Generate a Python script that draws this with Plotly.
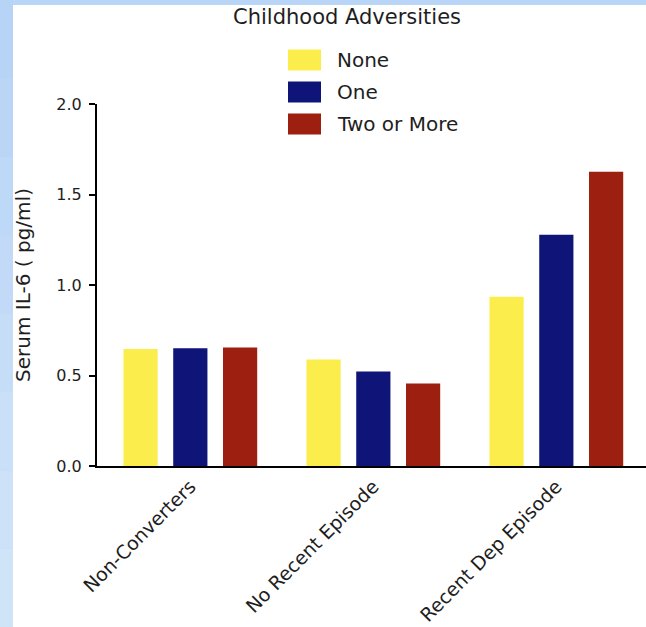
import plotly.graph_objects as go

categories = ["Non-Converters", "No Recent Episode", "Recent Dep Episode"]
series_names = ["None", "One", "Two or More"]
none_vals = [0.647, 0.588, 0.935]
one_vals = [0.650, 0.522, 1.277]
two_vals = [0.655, 0.456, 1.626]
y_ticks = [0.0, 0.5, 1.0, 1.5, 2.0]
legend_title = "Childhood Adversities"
y_title = "Serum IL-6 ( pg/ml)"

colors = ["#FBEE4C", "#0E1478", "#9D1F0F"]
FONT = "DejaVu Sans"
TXT = "#1e1e1e"

W, H = 646, 627
L, R, T, B = 97, 0, 104, 161
PW, PH = W - L - R, H - T - B


def px_x(x):
    return (x - L) / PW


def px_y(y):
    return (H - B - y) / PH


fig = go.Figure()
for name, vals, col in zip(series_names, [none_vals, one_vals, two_vals], colors):
    fig.add_trace(go.Bar(x=categories, y=vals, name=name,
                         marker=dict(color=col, line=dict(width=0)),
                         showlegend=False))

shapes = []
# background: blue frame with lighter gradient on the left strip
grad = ["#b7d3f6", "#bad5f6", "#bed8f7", "#c2daf7", "#c6ddf7", "#cae0f8", "#cde2f8", "#d0e4f8"]
n = len(grad)
for i, c in enumerate(grad):
    shapes.append(dict(type="rect", xref="paper", yref="paper", layer="below",
                       x0=px_x(0), x1=px_x(13),
                       y0=px_y(H * i / n), y1=px_y(H * (i + 1) / n),
                       fillcolor=c, line=dict(width=0)))
shapes.append(dict(type="rect", xref="paper", yref="paper", layer="below",
                   x0=px_x(13), x1=px_x(W), y0=px_y(5), y1=px_y(H),
                   fillcolor="white", line=dict(width=0)))

annotations = [dict(text=legend_title, xref="paper", yref="paper",
                    x=px_x(347), y=px_y(17), xanchor="center", yanchor="middle",
                    showarrow=False, font=dict(family=FONT, size=21, color=TXT))]
row_y = [60, 92, 124]
for name, col, ry in zip(series_names, colors, row_y):
    shapes.append(dict(type="rect", xref="paper", yref="paper",
                       x0=px_x(288), x1=px_x(321), y0=px_y(ry + 10.5), y1=px_y(ry - 10.5),
                       fillcolor=col, line=dict(width=0)))
    annotations.append(dict(text=name, xref="paper", yref="paper",
                            x=px_x(335), y=px_y(ry), xanchor="left", yanchor="middle",
                            showarrow=False, font=dict(family=FONT, size=20, color=TXT)))

fig.update_layout(
    width=W, height=H, autosize=False,
    margin=dict(l=L, r=R, t=T, b=B, pad=0),
    paper_bgcolor="#b9d5f7", plot_bgcolor="white",
    font=dict(family=FONT, color=TXT),
    barmode="group", bargap=0.184, bargroupgap=0.313,
    shapes=shapes, annotations=annotations,
    showlegend=False,
    xaxis=dict(range=[-0.51, 2.49], showline=True, linecolor="black", linewidth=2,
               ticks="", showgrid=False, zeroline=False, tickangle=-45,
               tickfont=dict(family=FONT, size=19, color=TXT), automargin=False),
    yaxis=dict(range=[0, 2], tickvals=y_ticks, ticktext=[f"{v:.1f}" for v in y_ticks],
               showline=True, linecolor="black", linewidth=2,
               ticks="outside", ticklen=6, tickwidth=2, tickcolor="black",
               ticklabelstandoff=4,
               showgrid=False, zeroline=False, automargin=False,
               tickfont=dict(family=FONT, size=16, color=TXT),
               title=dict(text=y_title, standoff=20,
                          font=dict(family=FONT, size=20, color=TXT))),
)

fig.write_html("out.html", config={"displayModeBar": False},
               post_script="document.body.style.margin='0';document.body.style.overflow='hidden';")
